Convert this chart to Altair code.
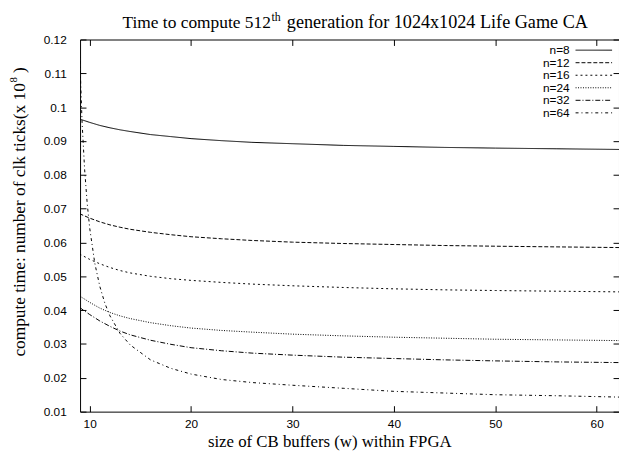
import altair as alt
import pandas as pd

# ---- data ----
W = [9, 10, 11, 12, 13, 14, 16, 18, 20, 23, 26, 30, 35, 40, 45, 50, 56, 62.2]
N8 = [0.0965, 0.0955, 0.0946, 0.0939, 0.0933, 0.0928, 0.0919, 0.0913, 0.0907, 0.0901,
      0.0896, 0.0892, 0.0887, 0.0884, 0.0881, 0.0879, 0.0877, 0.0875]
N12 = [0.0685, 0.0672, 0.0661, 0.0652, 0.0645, 0.0639, 0.0630, 0.0623, 0.0617, 0.0611,
       0.0606, 0.0601, 0.0597, 0.0594, 0.0591, 0.0589, 0.0587, 0.0585]
N16 = [0.0566, 0.0550, 0.0537, 0.0526, 0.0517, 0.0510, 0.0500, 0.0493, 0.0488, 0.0482,
       0.0477, 0.0472, 0.0467, 0.0463, 0.0460, 0.0458, 0.0456, 0.0454]
N24 = [0.0442, 0.0423, 0.0406, 0.0393, 0.0383, 0.0375, 0.0363, 0.0354, 0.0347, 0.0340,
       0.0335, 0.0329, 0.0324, 0.0320, 0.0317, 0.0314, 0.0312, 0.0310]
N32 = [0.0408, 0.0387, 0.0368, 0.0352, 0.0338, 0.0327, 0.0311, 0.0299, 0.0289, 0.0280,
       0.0273, 0.0267, 0.0261, 0.0257, 0.0253, 0.0250, 0.0247, 0.0245]
W64 = [9, 9.25, 9.5, 9.75, 10, 10.5, 11, 11.5, 12, 13, 14, 16, 18, 20, 23, 26, 30, 35,
       40, 45, 50, 56, 62.2]
N64 = [0.1166, 0.0955, 0.0816, 0.0717, 0.0643, 0.0539, 0.0470, 0.0420, 0.0383, 0.0331,
       0.0297, 0.0253, 0.0228, 0.0211, 0.0195, 0.0186, 0.0178, 0.0169, 0.0160, 0.0155,
       0.0150, 0.0147, 0.0143]

SERIES = ["n=8", "n=12", "n=16", "n=24", "n=32", "n=64"]
X_TICKS = [10, 20, 30, 40, 50, 60]
Y_TICKS = [0.01, 0.02, 0.03, 0.04, 0.05, 0.06, 0.07, 0.08, 0.09, 0.1, 0.11, 0.12]

rows = []
for name, ws, vs in [("n=8", W, N8), ("n=12", W, N12), ("n=16", W, N16),
                     ("n=24", W, N24), ("n=32", W, N32), ("n=64", W64, N64)]:
    for w, v in zip(ws, vs):
        rows.append({"series": name, "w": w, "t": v})
df = pd.DataFrame(rows)
leg = pd.DataFrame({"series": SERIES, "row": list(range(len(SERIES)))})

# ---- styling ----
PW, PH = 546, 377
SERIF = "Liberation Serif"
SANS = "Liberation Sans"
DASHES = [[1, 0], [4, 2], [2, 3], [1, 1.5], [5, 2, 1, 2], [3, 3, 1, 3]]

dash = alt.StrokeDash("series:N", scale=alt.Scale(domain=SERIES, range=DASHES), legend=None)
xscale = alt.Scale(domain=[9.05, 62.2], nice=False, zero=False)
yscale = alt.Scale(domain=[0.01, 0.12], nice=False, zero=False)

lines = alt.Chart(df).mark_line(clip=True, color="black", strokeWidth=1).encode(
    x=alt.X("w:Q", scale=xscale, axis=alt.Axis(
        values=X_TICKS, title=None, ticks=False, domain=False, grid=True,
        gridDash=[6, PH - 12, 6, 0], gridColor="black", gridOpacity=1, gridWidth=1,
        labelFont=SANS, labelFontSize=12, labelColor="black", labelPadding=7,
        labelFlush=False, labelOverlap=False)),
    y=alt.Y("t:Q", scale=yscale, axis=alt.Axis(
        values=Y_TICKS, format="~g", title=None, ticks=False, domain=False, grid=True,
        gridDash=[6, PW - 12, 6, 0], gridColor="black", gridOpacity=1, gridWidth=1,
        labelFont=SANS, labelFontSize=12, labelColor="black", labelPadding=14,
        labelFlush=False, labelOverlap=False)),
    strokeDash=dash,
    detail="series:N",
)

row_scale = alt.Scale(domain=[0, 5], range=[10.8, 74.3])
leg_lines = alt.Chart(leg).mark_rule(color="black", strokeWidth=1).encode(
    x=alt.value(502), x2=alt.value(539),
    y=alt.Y("row:Q", scale=row_scale, axis=None),
    strokeDash=dash,
)
leg_text = alt.Chart(leg).mark_text(
    align="right", baseline="middle", font=SANS, fontSize=12, color="black"
).encode(
    x=alt.value(496),
    y=alt.Y("row:Q", scale=row_scale, axis=None),
    text="series:N",
)


def txt(s, x, y, size, align="left", angle=0, font=SERIF):
    return alt.Chart(pd.DataFrame({"s": [s]})).mark_text(
        align=align, baseline="alphabetic", font=font, fontSize=size,
        color="black", angle=angle
    ).encode(text="s:N", x=alt.value(x), y=alt.value(y))


title_a = txt("Time to compute 512", 193.3, -11.7, 17.6, align="right")
title_b = txt("th", 194, -18.5, 12)
title_c = txt("generation for 1024x1024 Life Game CA", 209.5, -11.7, 18.4)

ylab_a = txt("compute time: number of clk ticks(x 10", -56, 44.3, 17.5, align="right", angle=270)
ylab_b = txt("8", -64, 43.5, 11, angle=270)
ylab_c = txt(")", -56, 34, 17.5, angle=270)

xlab = txt("size of CB buffers (w) within FPGA", 253, 413, 17, align="center")

chart = alt.layer(
    lines, leg_lines, leg_text, title_a, title_b, title_c, ylab_a, ylab_b, ylab_c, xlab
).resolve_scale(y="independent").properties(
    width=PW, height=PH,
    autosize=alt.AutoSizeParams(type="none"),
    padding={"left": 73, "top": 29, "right": 0, "bottom": 40},
    background="white",
).configure_view(stroke="black", strokeWidth=1)

chart.save("out.html", embed_options={"renderer": "svg", "actions": False})
